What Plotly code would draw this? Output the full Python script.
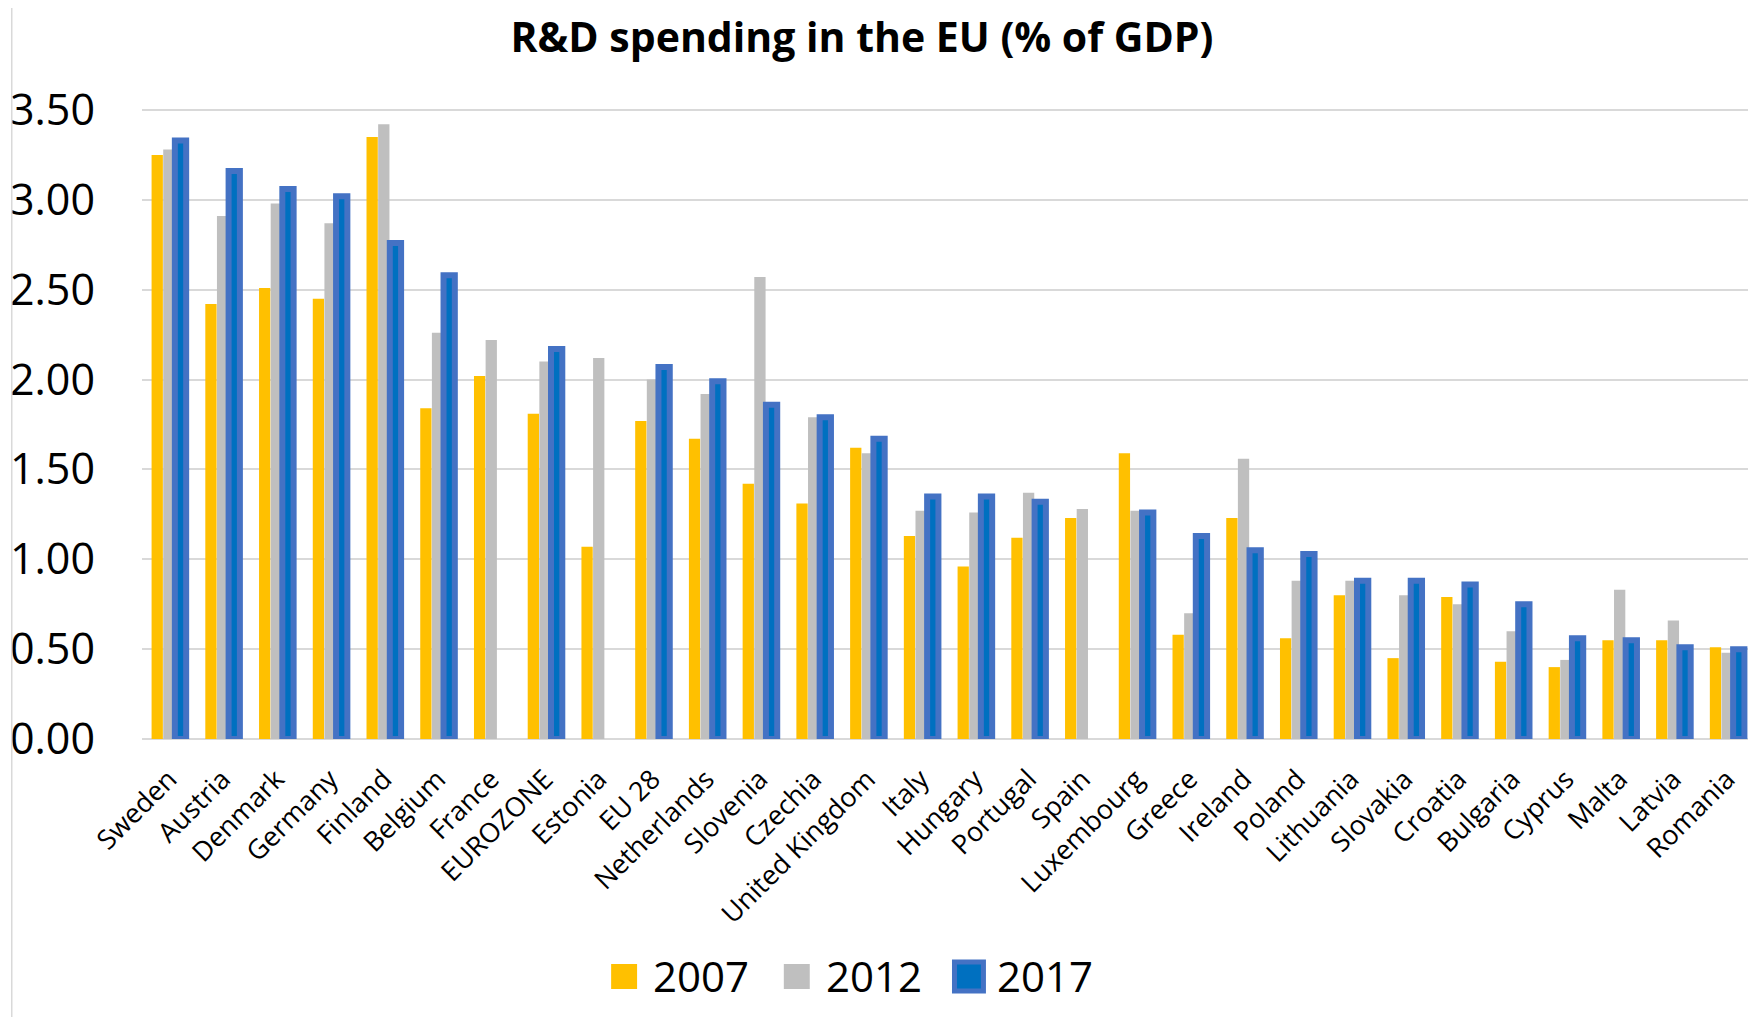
import plotly.graph_objects as go

countries = ["Sweden", "Austria", "Denmark", "Germany", "Finland", "Belgium", "France",
             "EUROZONE", "Estonia", "EU 28", "Netherlands", "Slovenia", "Czechia",
             "United Kingdom", "Italy", "Hungary", "Portugal", "Spain", "Luxembourg",
             "Greece", "Ireland", "Poland", "Lithuania", "Slovakia", "Croatia",
             "Bulgaria", "Cyprus", "Malta", "Latvia", "Romania"]

years = ["2007", "2012", "2017"]

rd_2007 = [3.25, 2.42, 2.51, 2.45, 3.35, 1.84, 2.02, 1.81, 1.07, 1.77, 1.67, 1.42, 1.31,
           1.62, 1.13, 0.96, 1.12, 1.23, 1.59, 0.58, 1.23, 0.56, 0.80, 0.45, 0.79,
           0.43, 0.40, 0.55, 0.55, 0.51]
rd_2012 = [3.28, 2.91, 2.98, 2.87, 3.42, 2.26, 2.22, 2.10, 2.12, 2.00, 1.92, 2.57, 1.79,
           1.59, 1.27, 1.26, 1.37, 1.28, 1.27, 0.70, 1.56, 0.88, 0.88, 0.80, 0.75,
           0.60, 0.44, 0.83, 0.66, 0.48]
rd_2017 = [3.33, 3.16, 3.06, 3.02, 2.76, 2.58, None, 2.17, None, 2.07, 1.99, 1.86, 1.79,
           1.67, 1.35, 1.35, 1.32, None, 1.26, 1.13, 1.05, 1.03, 0.88, 0.88, 0.86,
           0.75, 0.56, 0.55, 0.51, 0.50]

y_ticks = [0.0, 0.5, 1.0, 1.5, 2.0, 2.5, 3.0, 3.5]

# The page body has an 8px default margin; the figure is sized so it ends at the window edge.
BODY = 8
W, H = 1756 - BODY, 1017 - BODY
PLOT_L, PLOT_R, PLOT_T, PLOT_B = 139, 1754, 101, 739   # page coordinates
ML = PLOT_L - BODY
MR = (1756 - PLOT_R)
MT = PLOT_T - BODY
MB = 1017 - PLOT_B
PW = W - ML - MR
PH = H - MT - MB

GOLD = "#FFC000"
GREY = "#BFBFBF"
BLUE_FILL = "#0070C0"
BLUE_LINE = "#4472C4"

fig = go.Figure()
fig.add_trace(go.Bar(name=years[0], x=countries, y=rd_2007,
                     marker=dict(color=GOLD, line=dict(width=0)), showlegend=False))
fig.add_trace(go.Bar(name=years[1], x=countries, y=rd_2012,
                     marker=dict(color=GREY, line=dict(width=0)), showlegend=False))
fig.add_trace(go.Bar(name=years[2], x=countries, y=rd_2017,
                     marker=dict(color=BLUE_FILL, line=dict(width=6, color=BLUE_LINE)),
                     showlegend=False))


def px_x(px):
    # page x -> paper x
    return (px - PLOT_L) / PW


def px_y(py):
    # page y -> paper y
    return (PLOT_B - py) / PH


shapes = []
annotations = []
# frame line on the left edge of the chart
shapes.append(dict(type="line", xref="paper", yref="paper",
                   x0=px_x(BODY + 0.5), x1=px_x(BODY + 0.5), y0=px_y(BODY), y1=px_y(1017),
                   line=dict(color="#D9D9D9", width=1.5)))

# manual legend (large swatches as in the original)
leg_items = [
    (years[0], GOLD, None, 609, 635, 649),
    (years[1], GREY, None, 782, 808, 822),
    (years[2], BLUE_FILL, BLUE_LINE, 953, 982, 994),
]
for label, fill, border, x0, x1, tx in leg_items:
    if border:
        shapes.append(dict(type="rect", xref="paper", yref="paper",
                           x0=px_x(x0), x1=px_x(x1), y0=px_y(991), y1=px_y(962),
                           fillcolor=fill, line=dict(color=border, width=5)))
    else:
        shapes.append(dict(type="rect", xref="paper", yref="paper",
                           x0=px_x(x0), x1=px_x(x1), y0=px_y(989), y1=px_y(964),
                           fillcolor=fill, line=dict(width=0)))
    annotations.append(dict(text=label, xref="paper", yref="paper",
                            x=px_x(tx), y=px_y(976), xanchor="left", yanchor="middle",
                            showarrow=False,
                            font=dict(family="Open Sans", size=42, color="#000000")))

fig.update_layout(
    width=W, height=H, autosize=False,
    margin=dict(l=ML, r=MR, t=MT, b=MB, pad=0),
    paper_bgcolor="white", plot_bgcolor="white",
    barmode="group", bargap=0.35, bargroupgap=0.03,
    title=dict(text="<b>R&D spending in the EU (% of GDP)</b>",
               x=(862 - BODY) / W, xanchor="center", y=1 - (38 - BODY) / H, yanchor="middle",
               xref="container", yref="container",
               font=dict(family="Open Sans", size=41, color="#000000")),
    font=dict(family="Open Sans", color="#000000"),
    shapes=shapes,
    annotations=annotations,
    showlegend=False,
)

fig.update_xaxes(
    tickangle=-45, tickfont=dict(family="Open Sans", size=27, color="#000000"),
    showgrid=False, showline=False, zeroline=False, ticks="",
    ticklabelstandoff=18,
)
fig.update_yaxes(
    range=[0, 3.55], tickvals=y_ticks, tickformat=".2f",
    tickfont=dict(family="Open Sans", size=43, color="#000000"),
    showgrid=True, gridcolor="#D9D9D9", gridwidth=1.5,
    zeroline=True, zerolinecolor="#D9D9D9", zerolinewidth=1.5,
    showline=False, ticks="", ticklabelstandoff=46,
)

fig.write_html("out.html")
